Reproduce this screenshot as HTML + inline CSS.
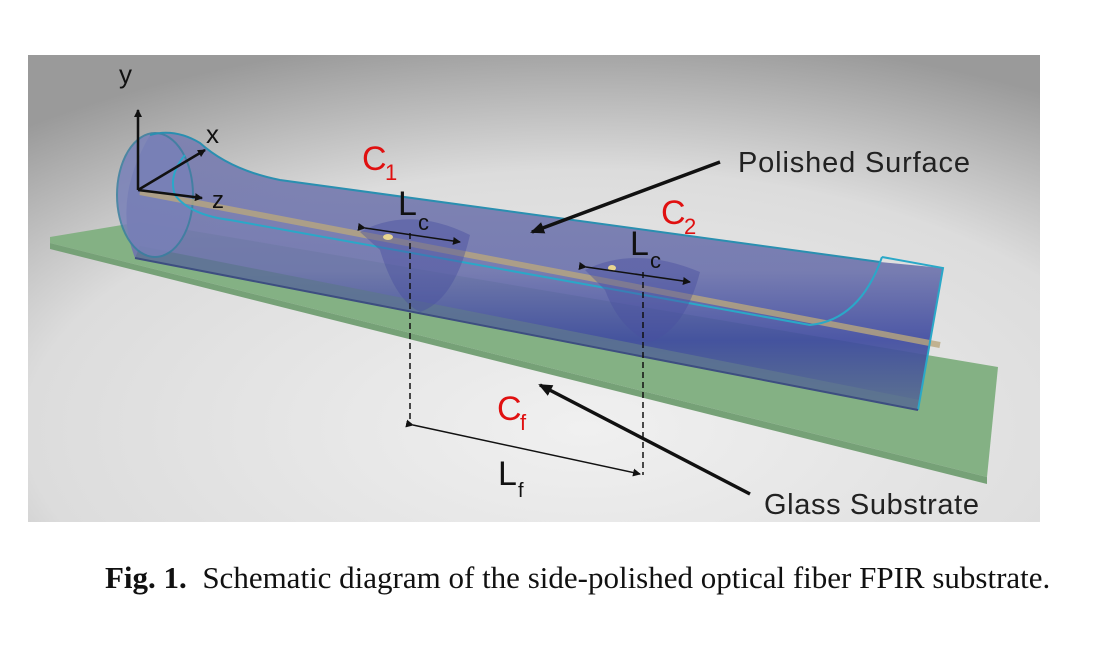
<!DOCTYPE html>
<html><head><meta charset="utf-8"><style>
body{margin:0;background:#fff;width:1100px;height:653px;overflow:hidden}
svg{position:absolute;left:0;top:0}
.cap{position:absolute;left:105px;top:560px;font-family:"Liberation Serif",serif;font-size:31px;color:#111;white-space:nowrap}
</style></head><body>
<svg width="1100" height="653" viewBox="0 0 1100 653">
<defs>
<radialGradient id="bg" cx="0.55" cy="0.8" r="0.85">
<stop offset="0" stop-color="#f0f0f0"/><stop offset="0.65" stop-color="#dcdcdc"/><stop offset="1" stop-color="#9a9a9a"/>
</radialGradient>
<linearGradient id="fb" x1="0" y1="0" x2="0" y2="1">
<stop offset="0" stop-color="#7b7fb0"/><stop offset="0.5" stop-color="#6e74ad"/><stop offset="0.75" stop-color="#3f4ba0"/><stop offset="1" stop-color="#5a6e90"/>
</linearGradient>
<marker id="ah" markerWidth="8" markerHeight="8" refX="7" refY="4" orient="auto" markerUnits="userSpaceOnUse"><path d="M0,0 L8,4 L0,8 z" fill="#111"/></marker>
<marker id="ah2" markerWidth="14" markerHeight="12" refX="12" refY="6" orient="auto" markerUnits="userSpaceOnUse"><path d="M0,0 L14,6 L0,12 z" fill="#111"/></marker>
</defs>
<rect x="28" y="55" width="1012" height="467" fill="url(#bg)"/>
<polygon points="50,237 140,222 998,367 987,477 50,243" fill="#84b184"/>
<polygon points="50,243 987,477 987,484 50,249" fill="#76a177"/>
<path d="M150,135 Q175,128 200,143 Q230,170 280,180 L880,262 L943,268 L918,410 L135,258 Q112,200 150,135 z" fill="url(#fb)" opacity="0.92"/>
<path d="M135,258 L918,410 L920,400 L140,246 z" fill="#5e7690" opacity="0.8"/>
<ellipse cx="155" cy="195" rx="38" ry="62" fill="#7880b8" stroke="#3a7fa0" stroke-width="2" opacity="0.85"/>
<path d="M140,192 L940,345" stroke="#b9a77e" stroke-width="6" opacity="0.8"/>
<path d="M150,135 Q175,128 200,143 Q230,170 280,180 L880,262" fill="none" stroke="#2a8fb0" stroke-width="2"/>
<path d="M185,155 Q168,175 175,195 Q190,215 230,220 L810,325 Q860,320 882,257" fill="none" stroke="#2aa8c8" stroke-width="2"/>
<path d="M882,257 L943,268 L918,410" fill="none" stroke="#2aa8c8" stroke-width="2"/>
<path d="M135,258 L918,410" stroke="#3d4e80" stroke-width="2"/>
<path d="M360,232 Q410,205 470,235 Q455,300 420,312 Q395,300 380,250 z" fill="#4a4fa0" opacity="0.45"/>
<path d="M585,270 Q635,245 700,272 Q685,330 650,342 Q620,330 605,290 z" fill="#4a4fa0" opacity="0.45"/>
<ellipse cx="388" cy="237" rx="5" ry="3" fill="#e8d590"/>
<ellipse cx="612" cy="268" rx="4" ry="3" fill="#e8d590"/>
<g stroke="#111" stroke-width="2.5" fill="none">
<path d="M138,190 L138,110" marker-end="url(#ah)"/>
<path d="M138,190 L205,150" marker-end="url(#ah)"/>
<path d="M138,190 L202,198" marker-end="url(#ah)"/>
</g>
<g font-family="Liberation Sans,sans-serif" fill="#111">
<text x="119" y="83" font-size="26">y</text>
<text x="206" y="143" font-size="26">x</text>
<text x="212" y="208" font-size="24">z</text>
<text x="738" y="172" font-size="29" fill="#222" textLength="232">Polished Surface</text>
<text x="764" y="514" font-size="29" fill="#222" textLength="215">Glass Substrate</text>
<text x="398" y="215" font-size="34">L</text><text x="418" y="230" font-size="22">c</text>
<text x="630" y="255" font-size="34">L</text><text x="650" y="268" font-size="22">c</text>
<text x="498" y="485" font-size="34">L</text><text x="518" y="497" font-size="20">f</text>
</g>
<g font-family="Liberation Sans,sans-serif" fill="#e01010">
<text x="362" y="170" font-size="34">C</text><text x="385" y="180" font-size="22">1</text>
<text x="661" y="224" font-size="34">C</text><text x="684" y="234" font-size="22">2</text>
<text x="497" y="420" font-size="34">C</text><text x="520" y="430" font-size="22">f</text>
</g>
<g stroke="#111" stroke-width="1.5" fill="none">
<path d="M410,233 L410,425" stroke-dasharray="6,4"/>
<path d="M643,272 L643,475" stroke-dasharray="6,4"/>
<path d="M365,228 L460,242" marker-start="url(#ah)" marker-end="url(#ah)"/>
<path d="M586,267 L690,282" marker-start="url(#ah)" marker-end="url(#ah)"/>
<path d="M413,425 L640,474" marker-start="url(#ah)" marker-end="url(#ah)"/>
</g>
<g stroke="#111" stroke-width="3.5" fill="none">
<path d="M720,162 L532,232" marker-end="url(#ah2)"/>
<path d="M750,494 L540,385" marker-end="url(#ah2)"/>
</g>
</svg>
<div class="cap"><b>Fig. 1.</b>&nbsp; Schematic diagram of the side-polished optical fiber FPIR substrate.</div>
</body></html>
